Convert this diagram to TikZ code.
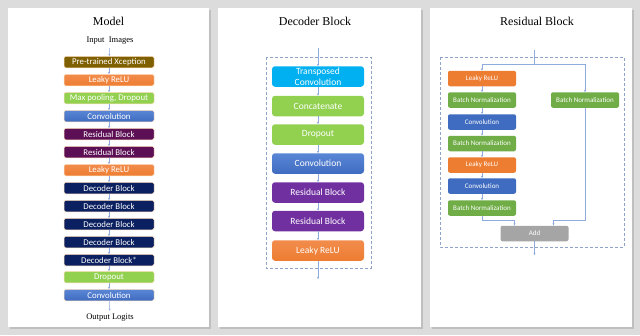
\documentclass[tikz,border=0pt]{standalone}
\usepackage{fontspec}
\setmainfont{Liberation Serif}
\newfontfamily\blkfont{Carlito}
\usetikzlibrary{arrows.meta}

\definecolor{pageback}{HTML}{DCDCDC}
\definecolor{xcepcol}{HTML}{7F6000}
\definecolor{relucol}{HTML}{ED7D31}
\definecolor{relutop}{HTML}{F28C4C}
\definecolor{greencol}{HTML}{92D050}
\definecolor{convcol}{HTML}{3F6CC0}
\definecolor{convtop}{HTML}{5A86D6}
\definecolor{rescol}{HTML}{5C0F55}
\definecolor{deccol}{HTML}{0A2060}
\definecolor{purpcol}{HTML}{7030A0}
\definecolor{tconvcol}{HTML}{00B0F0}
\definecolor{bncol}{HTML}{70AD47}
\definecolor{addcol}{HTML}{A5A5A5}
\definecolor{linecol}{HTML}{8FAADC}
\definecolor{dashcol}{HTML}{8FA3C8}

\tikzset{
  panel/.style={fill=white},
  shade/.style={fill=black!25},
  title/.style={font=\fontsize{12}{14}\selectfont},
  sub/.style={font=\fontsize{8.5}{10}\selectfont},
  blk/.style={rounded corners=1.5pt, text=white, draw=orange!25, line width=0.5pt,
    font=\blkfont\fontsize{8.8}{9}\selectfont, minimum width=90pt,
    minimum height=11.5pt, inner sep=0pt},
  dblk/.style={rounded corners=3pt, text=white!92, minimum width=92pt,
    minimum height=20.5pt, font=\blkfont\fontsize{9.5}{11}\selectfont,
    align=center, inner sep=0pt},
  rblk/.style={rounded corners=2pt, text=white!92, minimum width=68pt,
    minimum height=15.5pt, font=\blkfont\fontsize{7}{8}\selectfont, inner sep=0pt},
  conn/.style={linecol, line width=0.5pt, -{Stealth[length=2.2pt,width=2pt,fill=convcol]}},
  dashbox/.style={dashcol, line width=0.7pt, dash pattern=on 3pt off 2pt},
}

\begin{document}
\begin{tikzpicture}[x=1pt,y=-1pt]
    \useasboundingbox (0,0) rectangle (640,335);
    \fill[pageback] (0,0) rectangle (640,335);
    % Hojas
    \fill[shade] (9.5,9.5) rectangle (210.5,328.5);
    \fill[shade] (219.5,9.5) rectangle (422.5,328.5);
    \fill[shade] (431.5,9.5) rectangle (633.5,328.5);
    \fill[panel] (8,8) rectangle (209,327);
    \fill[panel] (218,8) rectangle (421,327);
    \fill[panel] (430,8) rectangle (632,327);

    % Modelo
    \node[title] (mtitle) at (108.5,21) {Model};
    \node[sub] (min) at (110,41) {Input\ \ Images};
    \node[blk, fill=xcepcol] (m1) at (109,62) {Pre-trained Xception};
    \node[blk, top color=relutop, bottom color=relucol] (m2) at (109,80) {Leaky ReLU};
    \node[blk, fill=greencol] (m3) at (109,98) {Max pooling, Dropout};
    \node[blk, top color=convtop, bottom color=convcol] (m4) at (109,116) {Convolution};
    \node[blk, fill=rescol] (m5) at (109,134) {Residual Block};
    \node[blk, fill=rescol] (m6) at (109,152) {Residual Block};
    \node[blk, top color=relutop, bottom color=relucol] (m7) at (109,170) {Leaky ReLU};
    \node[blk, fill=deccol] (m8) at (109,188) {Decoder Block};
    \node[blk, fill=deccol] (m9) at (109,206) {Decoder Block};
    \node[blk, fill=deccol] (m10) at (109,224) {Decoder Block};
    \node[blk, fill=deccol] (m11) at (109,242) {Decoder Block};
    \node[blk, fill=deccol] (m12) at (109,260) {Decoder Block*};
    \node[blk, fill=greencol] (m13) at (109,277) {Dropout};
    \node[blk, top color=convtop, bottom color=convcol] (m14) at (109,295) {Convolution};
    \node[sub] (mout) at (110,318) {Output Logits};
    % Flechas del modelo
    \draw[conn] (min) -- (m1);
    \draw[conn] (m1) -- (m2);
    \draw[conn] (m2) -- (m3);
    \draw[conn] (m3) -- (m4);
    \draw[conn] (m4) -- (m5);
    \draw[conn] (m5) -- (m6);
    \draw[conn] (m6) -- (m7);
    \draw[conn] (m7) -- (m8);
    \draw[conn] (m8) -- (m9);
    \draw[conn] (m9) -- (m10);
    \draw[conn] (m10) -- (m11);
    \draw[conn] (m11) -- (m12);
    \draw[conn] (m12) -- (m13);
    \draw[conn] (m13) -- (m14);
    \draw[conn] (m14) -- (mout);

    % Bloque decodificador
    \node[title] (dtitle) at (315,21) {Decoder Block};
    \draw[dashbox] (266,57) rectangle (371,268);
    \coordinate (din) at (318,48);
    \coordinate (dout) at (318,279);
    \node[dblk, fill=tconvcol] (d1) at (318,76.5) {Transposed\\Convolution};
    \node[dblk, fill=greencol] (d2) at (318,106) {Concatenate};
    \node[dblk, fill=greencol] (d3) at (318,134.5) {Dropout};
    \node[dblk, top color=convtop, bottom color=convcol] (d4) at (318,163.5) {Convolution};
    \node[dblk, fill=purpcol] (d5) at (318,192.5) {Residual Block};
    \node[dblk, fill=purpcol] (d6) at (318,221) {Residual Block};
    \node[dblk, top color=relutop, bottom color=relucol] (d7) at (318,250.5) {Leaky ReLU};
    \draw[conn] (din) -- (d1);
    \draw[conn] (d1) -- (d2);
    \draw[conn] (d2) -- (d3);
    \draw[conn] (d3) -- (d4);
    \draw[conn] (d4) -- (d5);
    \draw[conn] (d5) -- (d6);
    \draw[conn] (d6) -- (d7);
    \draw[conn] (d7) -- (dout);

    % Bloque residual
    \node[title] (rtitle) at (537,21) {Residual Block};
    \draw[dashbox] (440,57) rectangle (624,247);
    \coordinate (rin) at (534,50);
    \coordinate (rsplit) at (534,64);
    \coordinate (rjoin) at (534,220);
    \coordinate (rout) at (534.5,255);
    \node[rblk, fill=relucol] (r1) at (482,78.5) {Leaky ReLU};
    \node[rblk, fill=bncol] (r2) at (482,100) {Batch Normalization};
    \node[rblk, fill=convcol] (r3) at (482,122) {Convolution};
    \node[rblk, fill=bncol] (r4) at (482,143.5) {Batch Normalization};
    \node[rblk, fill=relucol] (r5) at (482,165) {Leaky ReLU};
    \node[rblk, fill=convcol] (r6) at (482,186) {Convolution};
    \node[rblk, fill=bncol] (r7) at (482,208) {Batch Normalization};
    \node[rblk, fill=bncol] (rbn) at (585,100) {Batch Normalization};
    \node[rblk, fill=addcol] (radd) at (534.5,233.5) {Add};
    \draw[linecol, line width=0.5pt] (rin) -- (rsplit);
    \draw[conn] (rsplit) -| (r1);
    \draw[conn] (rsplit) -| (rbn);
    \draw[conn] (r1) -- (r2);
    \draw[conn] (r2) -- (r3);
    \draw[conn] (r3) -- (r4);
    \draw[conn] (r4) -- (r5);
    \draw[conn] (r5) -- (r6);
    \draw[conn] (r6) -- (r7);
    \draw[conn] (r7.south) -- (r7.south |- rjoin) -| ([xshift=-20pt]radd.north);
    \draw[conn] (rbn.south) -- (rbn.south |- rjoin) -| ([xshift=19pt]radd.north);
    \draw[conn] (radd) -- (rout);
\end{tikzpicture}
\end{document}
